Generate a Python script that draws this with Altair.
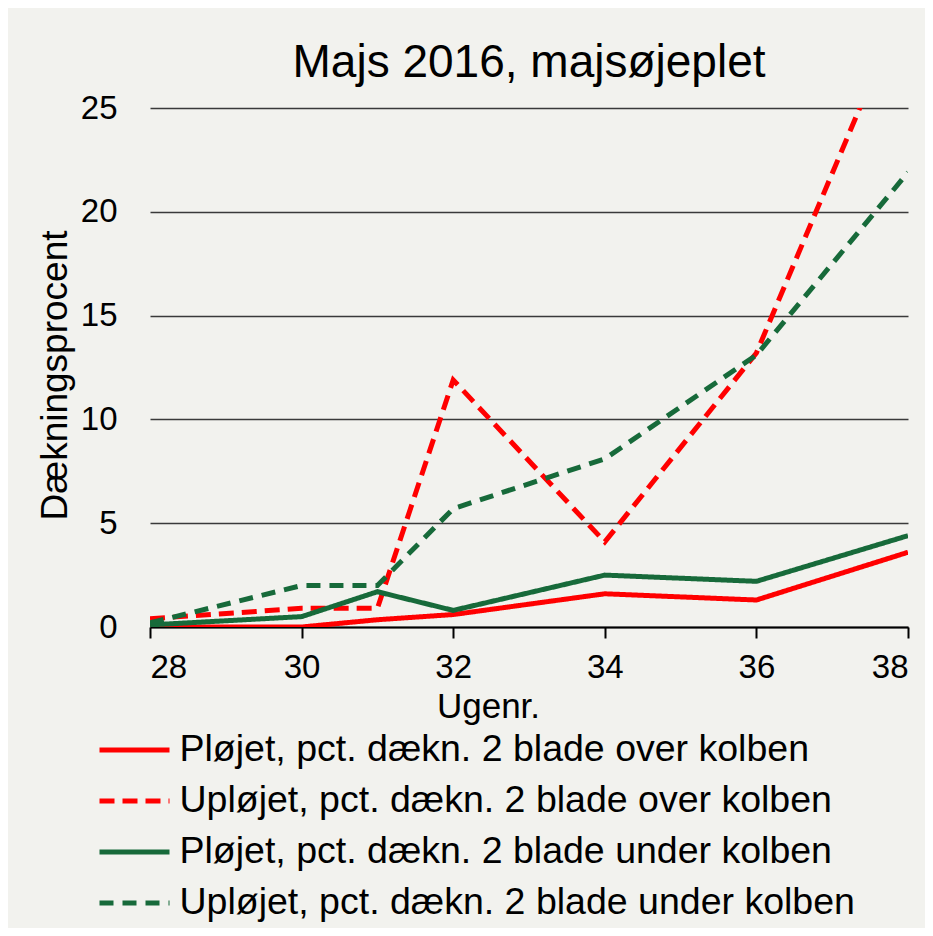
import altair as alt
import pandas as pd

weeks = [28, 30, 31, 32, 34, 36, 38]
series_names = [
    "Pløjet, pct. dækn. 2 blade over kolben",
    "Upløjet, pct. dækn. 2 blade over kolben",
    "Pløjet, pct. dækn. 2 blade under kolben",
    "Upløjet, pct. dækn. 2 blade under kolben",
]
pl_over = [0.0, 0.0, 0.35, 0.6, 1.6, 1.3, 3.6]
up_over = [0.4, 0.9, 0.9, 11.9, 4.1, 13.2, 30.5]
pl_under = [0.1, 0.5, 1.7, 0.8, 2.5, 2.2, 4.4]
up_under = [0.2, 2.0, 2.0, 5.7, 8.1, 13.1, 21.9]
colors = ["#ff0000", "#ff0000", "#176a3a", "#176a3a"]
dashes = [[1, 0], [15, 8], [1, 0], [14, 9]]
x_ticks = [28, 30, 32, 34, 36, 38]
y_ticks = [0, 5, 10, 15, 20, 25]

rows = []
for name, vals in zip(series_names, [pl_over, up_over, pl_under, up_under]):
    for w, v in zip(weeks, vals):
        rows.append({"Uge": w, "Pct": v, "Serie": name})
df = pd.DataFrame(rows)

FONT = "Liberation Sans"


def make_legend():
    return alt.Legend(
        title=None,
        orient="none",
        legendX=-35.5,
        legendY=622,
        direction="vertical",
        symbolType="M-2,0L2,0",
        symbolSize=1225,
        symbolStrokeWidth=5,
        labelFontSize=37.5,
        labelFont=FONT,
        labelColor="#000000",
        labelOffset=25,
        rowPadding=12,
        padding=0,
        labelLimit=800,
    )


chart = (
    alt.Chart(df)
    .mark_line(strokeWidth=5, clip=True)
    .encode(
        x=alt.X(
            "Uge:Q",
            scale=alt.Scale(domain=[28, 38], nice=False, zero=False),
            axis=alt.Axis(
                values=x_ticks,
                title="Ugenr.",
                grid=False,
                domainColor="#000000",
                domainWidth=2,
                tickColor="#000000",
                tickWidth=2,
                tickSize=11,
                labelFontSize=33,
                labelColor="#000000",
                labelFont=FONT,
                labelPadding=13,
                titleFont=FONT,
                titleFontSize=35,
                titleFontWeight="normal",
                titleColor="#000000",
                titleX=338,
                titleY=90,
                titleBaseline="alphabetic",
                titleAlign="center",
            ),
        ),
        y=alt.Y(
            "Pct:Q",
            scale=alt.Scale(domain=[0, 25], nice=False),
            axis=alt.Axis(
                values=y_ticks,
                title="Dækningsprocent",
                grid=True,
                gridColor="#3a3a3a",
                gridWidth=1.5,
                domain=False,
                ticks=False,
                labelFontSize=33,
                labelColor="#000000",
                labelFont=FONT,
                labelPadding=33,
                titleFont=FONT,
                titleFontSize=37,
                titleFontWeight="normal",
                titleColor="#000000",
                titleAngle=270,
                titleX=-84,
                titleY=267,
                titleBaseline="alphabetic",
                titleAlign="center",
            ),
        ),
        color=alt.Color(
            "Serie:N",
            sort=series_names,
            scale=alt.Scale(domain=series_names, range=colors),
            legend=make_legend(),
        ),
        strokeDash=alt.StrokeDash(
            "Serie:N",
            sort=series_names,
            scale=alt.Scale(domain=series_names, range=dashes),
            legend=make_legend(),
        ),
        order=alt.Order("Uge:Q"),
    )
    .properties(
        width=758,
        height=519,
        title=alt.TitleParams(
            "Majs 2016, majsøjeplet",
            font=FONT,
            fontSize=46,
            fontWeight="normal",
            color="#000000",
            anchor="middle",
            baseline="alphabetic",
            offset=-31,
        ),
        autosize=alt.AutoSizeParams(type="none"),
        padding={"left": 142, "top": 100, "right": 17, "bottom": 301},
        background="#f2f2ee",
    )
    .configure_view(stroke=None)
)

chart.save("out.html", embed_options={"renderer": "svg", "actions": False})
